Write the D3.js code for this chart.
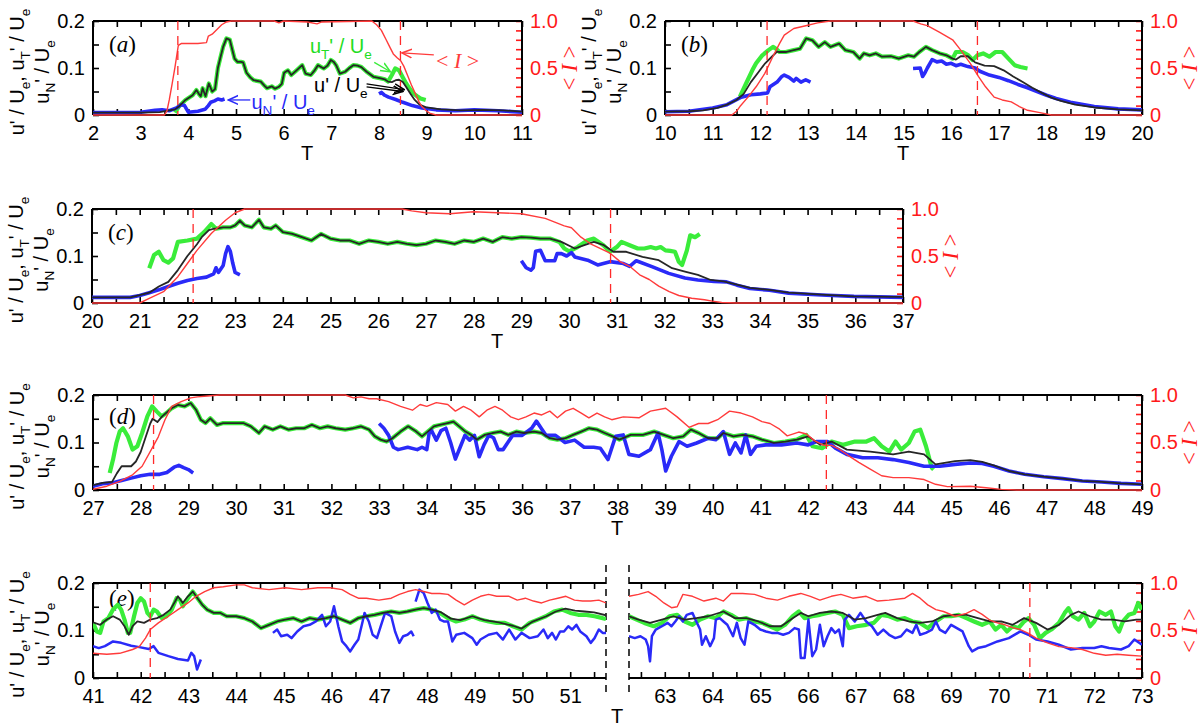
<!DOCTYPE html>
<html>
<head>
<meta charset="utf-8">
<script src="https://cdn.jsdelivr.net/npm/d3@7"></script>
<style>
body { margin: 0; background: #fff; }
svg { display: block; }
</style>
</head>
<body>
<div id="chart"></div>
<script>
// ---- data: [T, value] pairs ----
// panel (a)
var aRed = [[2,0],[3.5,0],[3.55,0.04],[3.6,0.16],[3.66,0.33],[3.72,0.51],[3.79,0.74],[3.85,0.76],[4.0,0.76],[4.2,0.76],[4.38,0.77],[4.42,0.84],[4.5,0.86],[4.6,0.91],[4.7,0.96],[4.8,0.99],[4.9,1.0],[5.8,1.0],[5.9,0.98],[6.0,1.0],[6.5,0.99],[6.7,0.97],[6.8,0.99],[7.85,1.0],[7.95,0.96],[8.05,0.9],[8.15,0.8],[8.23,0.72],[8.3,0.65],[8.38,0.61],[8.45,0.58],[8.52,0.52],[8.6,0.42],[8.68,0.32],[8.76,0.23],[8.84,0.14],[8.9,0.09],[8.98,0.05],[9.06,0.02],[9.2,0],[11,0]];
var aGreen = [[3.72,0.005],[3.8,0.018],[3.94,0.032],[4.09,0.042],[4.17,0.053],[4.22,0.045],[4.26,0.04],[4.3,0.057],[4.36,0.04],[4.43,0.067],[4.5,0.05],[4.56,0.055],[4.62,0.1],[4.68,0.125],[4.73,0.145],[4.8,0.163],[4.87,0.16],[4.92,0.14],[4.97,0.12],[5.03,0.113],[5.1,0.113],[5.15,0.112],[5.22,0.09],[5.3,0.08],[5.37,0.074],[5.52,0.071],[5.6,0.062],[5.65,0.057],[5.75,0.061],[5.82,0.056],[5.9,0.06],[5.96,0.066],[6.01,0.09],[6.09,0.095],[6.16,0.085],[6.27,0.095],[6.39,0.106],[6.46,0.088],[6.57,0.085],[6.65,0.095],[6.72,0.106],[6.84,0.099],[6.92,0.105],[6.99,0.117],[7.05,0.113],[7.1,0.106],[7.18,0.088],[7.29,0.092],[7.38,0.1],[7.46,0.106],[7.55,0.105],[7.63,0.102],[7.74,0.092],[7.89,0.081],[8.04,0.078],[8.12,0.076],[8.19,0.071],[8.27,0.085],[8.34,0.099],[8.42,0.095],[8.5,0.08],[8.57,0.067],[8.65,0.055],[8.72,0.046],[8.8,0.04],[8.87,0.035],[8.98,0.032]];
var aBlackIn = [[2,0.005],[3.0,0.005],[3.4,0.006],[3.6,0.01],[3.72,0.012],[3.8,0.018]];
var aBlackOut = [[8.27,0.07],[8.35,0.074],[8.42,0.075],[8.5,0.07],[8.58,0.058],[8.66,0.045],[8.75,0.032],[8.85,0.022],[9.0,0.016],[9.3,0.012],[9.7,0.01],[10.2,0.011],[10.6,0.01],[11,0.007]];
var aBlue1 = [[2,0.005],[2.5,0.005],[3.0,0.006],[3.3,0.01],[3.45,0.011],[3.6,0.009],[3.75,0.015],[3.85,0.022],[3.92,0.02],[4.0,0.006],[4.2,0.008],[4.35,0.012],[4.42,0.02],[4.47,0.027],[4.55,0.03],[4.62,0.034],[4.7,0.032],[4.76,0.034]];
var aBlue2 = [[8.0,0.045],[8.05,0.048],[8.12,0.042],[8.2,0.038],[8.35,0.033],[8.5,0.027],[8.7,0.02],[8.9,0.015],[9.2,0.011],[9.6,0.009],[10.0,0.011],[10.5,0.009],[11,0.006]];
var aDash = [3.78, 8.45];

// panel (b)
var bRed = [[10,0],[11.4,0],[11.5,0.04],[11.57,0.09],[11.74,0.19],[11.91,0.3],[12.09,0.44],[12.26,0.62],[12.4,0.76],[12.5,0.85],[12.7,0.92],[12.95,0.95],[13.2,0.98],[13.47,1.0],[15.2,1.0],[15.36,0.97],[15.5,0.95],[15.76,0.88],[16.03,0.8],[16.2,0.69],[16.4,0.55],[16.57,0.41],[16.72,0.3],[16.9,0.19],[17.07,0.16],[17.26,0.14],[17.43,0.09],[17.6,0.05],[17.86,0.025],[18.1,0],[20,0]];
var bGreen = [[11.57,0.039],[11.7,0.067],[11.83,0.095],[11.91,0.11],[12.04,0.127],[12.17,0.138],[12.27,0.145],[12.34,0.14],[12.4,0.134],[12.53,0.134],[12.7,0.138],[12.83,0.141],[12.96,0.163],[13.09,0.159],[13.22,0.145],[13.35,0.155],[13.47,0.145],[13.65,0.152],[13.78,0.138],[13.95,0.134],[14.08,0.12],[14.17,0.131],[14.29,0.127],[14.42,0.131],[14.55,0.124],[14.74,0.125],[14.9,0.12],[15.1,0.127],[15.22,0.124],[15.33,0.134],[15.47,0.145],[15.6,0.138],[15.76,0.131],[15.9,0.127],[16.03,0.12],[16.1,0.134],[16.24,0.134],[16.36,0.127],[16.45,0.117],[16.55,0.127],[16.67,0.131],[16.8,0.124],[16.93,0.134],[17.07,0.134],[17.2,0.12],[17.33,0.106],[17.45,0.102],[17.6,0.099]];
var bBlackIn = [[10,0.007],[10.5,0.008],[10.8,0.01],[11.1,0.015],[11.3,0.022],[11.5,0.032],[11.65,0.045],[11.8,0.07],[11.95,0.09],[12.1,0.11],[12.25,0.125],[12.35,0.135]];
var bBlackOut = [[16.1,0.118],[16.2,0.125],[16.35,0.125],[16.5,0.112],[16.7,0.105],[16.9,0.104],[17.1,0.095],[17.3,0.082],[17.5,0.07],[17.7,0.058],[17.9,0.047],[18.1,0.037],[18.3,0.03],[18.6,0.022],[19.0,0.016],[19.5,0.012],[20,0.01]];
var bBlue1 = [[10,0.007],[10.5,0.008],[11,0.015],[11.3,0.022],[11.6,0.038],[11.8,0.043],[12.0,0.045],[12.15,0.047],[12.2,0.06],[12.35,0.07],[12.45,0.082],[12.5,0.085],[12.6,0.08],[12.7,0.072],[12.75,0.078],[12.85,0.07],[12.95,0.075],[13.05,0.07]];
var bBlue2 = [[15.2,0.099],[15.35,0.1],[15.4,0.082],[15.45,0.09],[15.5,0.1],[15.6,0.118],[15.7,0.113],[15.8,0.115],[15.9,0.108],[16.0,0.11],[16.1,0.105],[16.2,0.108],[16.35,0.103],[16.5,0.1],[16.6,0.093],[16.8,0.085],[17.0,0.08],[17.2,0.073],[17.4,0.065],[17.6,0.058],[17.8,0.05],[18.0,0.042],[18.2,0.035],[18.5,0.027],[19.0,0.018],[19.5,0.013],[20,0.011]];
var bDash = [12.14, 16.55];

// panel (c)
var cRed = [[20,0],[21.0,0],[21.2,0.05],[21.5,0.12],[21.8,0.28],[22.0,0.42],[22.2,0.56],[22.5,0.74],[22.8,0.88],[23.0,0.96],[23.2,1.0],[26.5,1.0],[26.7,0.98],[27.0,0.96],[27.5,0.95],[28.0,0.97],[28.5,0.96],[29.0,0.95],[29.5,0.9],[29.7,0.86],[29.9,0.82],[30.05,0.8],[30.25,0.7],[30.45,0.63],[30.65,0.58],[30.86,0.53],[31.07,0.44],[31.27,0.39],[31.48,0.3],[31.68,0.25],[31.88,0.18],[32.1,0.12],[32.3,0.08],[32.57,0.05],[32.84,0.035],[33.0,0.02],[33.2,0.005],[33.5,0],[37,0]];
var cGreen = [[21.2,0.074],[21.3,0.102],[21.4,0.109],[21.5,0.091],[21.6,0.086],[21.7,0.095],[21.8,0.13],[22.0,0.133],[22.2,0.137],[22.35,0.151],[22.5,0.168],[22.6,0.158],[22.75,0.161],[22.9,0.161],[23.0,0.165],[23.1,0.175],[23.2,0.165],[23.35,0.161],[23.5,0.177],[23.6,0.161],[23.75,0.158],[23.85,0.165],[24.0,0.151],[24.2,0.147],[24.4,0.14],[24.6,0.133],[24.8,0.147],[25.0,0.137],[25.2,0.133],[25.4,0.133],[25.6,0.126],[25.8,0.133],[26.0,0.13],[26.2,0.126],[26.4,0.13],[26.6,0.126],[26.8,0.123],[27.0,0.126],[27.2,0.133],[27.4,0.13],[27.6,0.126],[27.8,0.133],[28.0,0.13],[28.2,0.137],[28.4,0.13],[28.6,0.14],[28.8,0.137],[29.0,0.14],[29.2,0.139],[29.4,0.137],[29.6,0.137],[29.8,0.13],[29.9,0.116],[30.0,0.11],[30.18,0.119],[30.38,0.133],[30.52,0.137],[30.72,0.123],[30.86,0.109],[31.0,0.119],[31.1,0.13],[31.27,0.123],[31.44,0.116],[31.58,0.116],[31.71,0.119],[31.82,0.116],[31.92,0.119],[32.02,0.112],[32.12,0.111],[32.22,0.109],[32.3,0.088],[32.37,0.081],[32.47,0.112],[32.54,0.144],[32.64,0.14],[32.74,0.147]];
var cBlackIn = [[20,0.012],[20.8,0.012],[21.0,0.017],[21.2,0.022],[21.4,0.035],[21.6,0.045],[21.8,0.07],[22.0,0.1],[22.2,0.125],[22.3,0.14],[22.45,0.155],[22.55,0.158]];
var cBlackOut = [[29.84,0.13],[30.12,0.116],[30.32,0.123],[30.52,0.13],[30.73,0.123],[30.93,0.109],[31.2,0.109],[31.54,0.098],[31.88,0.091],[32.16,0.074],[32.43,0.067],[32.7,0.06],[32.97,0.049],[33.24,0.046],[33.52,0.039],[33.79,0.032],[34.2,0.028],[34.6,0.022],[35.29,0.018],[35.97,0.014],[36.84,0.013],[37,0.013]];
var cBlue1 = [[20,0.012],[20.8,0.012],[21.0,0.016],[21.2,0.022],[21.4,0.028],[21.6,0.035],[21.8,0.042],[22.0,0.048],[22.2,0.052],[22.4,0.055],[22.55,0.062],[22.6,0.075],[22.65,0.065],[22.75,0.08],[22.8,0.105],[22.85,0.12],[22.9,0.11],[22.95,0.085],[23.0,0.065],[23.1,0.06]];
var cBlue2 = [[29.0,0.09],[29.1,0.075],[29.2,0.07],[29.25,0.075],[29.3,0.11],[29.4,0.112],[29.5,0.09],[29.6,0.09],[29.7,0.09],[29.75,0.105],[29.84,0.105],[29.95,0.1],[30.05,0.107],[30.12,0.098],[30.39,0.091],[30.6,0.081],[30.86,0.088],[31.14,0.084],[31.27,0.078],[31.41,0.09],[31.75,0.077],[32.09,0.063],[32.43,0.053],[32.7,0.049],[33.04,0.046],[33.3,0.045],[33.52,0.038],[33.79,0.031],[34.2,0.027],[34.6,0.021],[35.29,0.017],[35.97,0.014],[37,0.012]];
var cDash = [22.12, 30.87];

// panel (d)
var dRed = [[27,0.007],[27.29,0.04],[27.56,0.09],[27.83,0.16],[28.03,0.25],[28.24,0.44],[28.37,0.56],[28.51,0.74],[28.65,0.88],[28.85,0.93],[29.05,0.97],[29.19,0.98],[29.4,0.99],[29.65,1.0],[32.29,1.0],[32.46,0.97],[32.62,0.98],[32.79,0.96],[32.95,0.96],[33.2,0.93],[33.45,0.88],[33.7,0.84],[33.86,0.9],[34.0,0.88],[34.2,0.92],[34.44,0.9],[34.6,0.83],[34.77,0.88],[34.93,0.84],[35.1,0.77],[35.26,0.84],[35.43,0.88],[35.59,0.84],[35.76,0.77],[35.92,0.74],[36.08,0.77],[36.25,0.81],[36.41,0.79],[36.58,0.83],[36.74,0.76],[36.91,0.83],[37.07,0.86],[37.24,0.81],[37.4,0.76],[37.57,0.81],[37.73,0.77],[37.88,0.74],[38.12,0.77],[38.45,0.76],[38.69,0.83],[39.01,0.86],[39.25,0.77],[39.5,0.66],[39.7,0.7],[39.9,0.7],[40.1,0.74],[40.35,0.83],[40.59,0.81],[40.83,0.77],[41.03,0.72],[41.2,0.7],[41.4,0.64],[41.56,0.57],[41.8,0.61],[41.96,0.59],[42.13,0.52],[42.33,0.47],[42.49,0.47],[42.65,0.43],[42.85,0.36],[43.06,0.29],[43.3,0.22],[43.54,0.15],[43.78,0.13],[44.11,0.13],[44.43,0.11],[44.67,0.06],[44.92,0.035],[45.4,0.04],[45.73,0.024],[46.05,0.007],[46.37,0],[49,0]];
var dGreen = [[27.35,0.036],[27.42,0.064],[27.49,0.099],[27.56,0.123],[27.63,0.13],[27.73,0.113],[27.83,0.085],[27.93,0.092],[28.03,0.12],[28.14,0.155],[28.24,0.176],[28.34,0.165],[28.44,0.155],[28.54,0.162],[28.65,0.172],[28.78,0.179],[28.92,0.176],[29.05,0.183],[29.16,0.169],[29.26,0.148],[29.36,0.141],[29.46,0.151],[29.6,0.137],[29.73,0.141],[29.98,0.141],[30.15,0.141],[30.31,0.134],[30.48,0.12],[30.6,0.134],[30.77,0.127],[30.93,0.134],[31.1,0.127],[31.26,0.13],[31.43,0.13],[31.59,0.137],[31.76,0.13],[31.92,0.134],[32.09,0.13],[32.29,0.127],[32.46,0.13],[32.62,0.134],[32.79,0.127],[32.91,0.113],[33.03,0.106],[33.16,0.102],[33.28,0.109],[33.45,0.123],[33.61,0.134],[33.78,0.123],[33.9,0.113],[34.02,0.123],[34.15,0.134],[34.27,0.137],[34.44,0.141],[34.56,0.144],[34.68,0.134],[34.81,0.123],[34.93,0.116],[35.05,0.106],[35.22,0.116],[35.38,0.12],[35.55,0.123],[35.71,0.116],[35.88,0.123],[36.04,0.12],[36.25,0.123],[36.41,0.12],[36.58,0.109],[36.74,0.106],[36.91,0.109],[37.07,0.116],[37.24,0.123],[37.4,0.13],[37.57,0.127],[37.73,0.12],[37.9,0.113],[38.04,0.106],[38.28,0.116],[38.53,0.116],[38.77,0.123],[38.97,0.116],[39.17,0.109],[39.38,0.113],[39.54,0.127],[39.7,0.12],[39.9,0.109],[40.1,0.109],[40.22,0.12],[40.43,0.113],[40.63,0.116],[40.83,0.113],[41.03,0.106],[41.28,0.099],[41.52,0.102],[41.76,0.106],[41.96,0.116],[42.09,0.092],[42.29,0.088],[42.49,0.102],[42.73,0.095],[42.98,0.102],[43.22,0.102],[43.38,0.109],[43.54,0.092],[43.7,0.081],[43.83,0.102],[43.95,0.085],[44.11,0.099],[44.23,0.123],[44.35,0.127],[44.47,0.092],[44.59,0.047],[44.63,0.043]];
var dBlackIn = [[27,0.01],[27.2,0.015],[27.4,0.017],[27.5,0.035],[27.6,0.05],[27.8,0.05],[27.9,0.06],[28.0,0.08],[28.1,0.11],[28.2,0.14],[28.25,0.15],[28.35,0.143],[28.45,0.155],[28.6,0.168]];
var dBlackOut = [[42.0,0.113],[42.25,0.095],[42.49,0.102],[42.81,0.085],[43.3,0.081],[43.78,0.075],[44.11,0.081],[44.43,0.075],[44.67,0.054],[45.08,0.061],[45.4,0.063],[45.65,0.059],[45.89,0.052],[46.21,0.04],[46.54,0.033],[46.94,0.028],[47.34,0.024],[47.75,0.019],[48.15,0.017],[48.56,0.014],[49,0.012]];
var dBlue1 = [[27,0.008],[27.2,0.013],[27.4,0.015],[27.6,0.02],[27.8,0.025],[28.0,0.03],[28.2,0.033],[28.4,0.033],[28.55,0.037],[28.7,0.048],[28.8,0.052],[28.9,0.047],[29.0,0.043],[29.1,0.036]];
var dBlue2 = [[33.0,0.14],[33.1,0.13],[33.2,0.115],[33.3,0.09],[33.4,0.085],[33.6,0.09],[33.8,0.085],[33.9,0.09],[34.0,0.085],[34.05,0.12],[34.1,0.125],[34.2,0.105],[34.3,0.125],[34.4,0.13],[34.5,0.1],[34.6,0.065],[34.7,0.09],[34.8,0.115],[34.9,0.105],[35.0,0.115],[35.1,0.07],[35.2,0.095],[35.3,0.115],[35.4,0.11],[35.5,0.085],[35.6,0.085],[35.7,0.1],[35.8,0.115],[36.0,0.115],[36.2,0.13],[36.3,0.145],[36.4,0.13],[36.5,0.115],[36.7,0.115],[36.9,0.1],[37.1,0.105],[37.3,0.09],[37.5,0.09],[37.64,0.088],[37.8,0.064],[37.96,0.113],[38.12,0.116],[38.24,0.075],[38.45,0.071],[38.69,0.085],[38.85,0.12],[38.93,0.085],[39.01,0.04],[39.13,0.071],[39.29,0.102],[39.46,0.092],[39.66,0.099],[39.9,0.109],[40.06,0.106],[40.22,0.123],[40.35,0.075],[40.47,0.099],[40.59,0.078],[40.69,0.116],[40.79,0.075],[40.91,0.092],[41.11,0.095],[41.44,0.095],[41.76,0.099],[42.0,0.095],[42.17,0.102],[42.41,0.102],[42.57,0.088],[42.81,0.075],[43.14,0.068],[43.46,0.068],[43.78,0.064],[44.11,0.058],[44.43,0.05],[44.76,0.05],[45.08,0.054],[45.4,0.057],[45.65,0.056],[45.89,0.05],[46.21,0.04],[46.54,0.033],[46.94,0.028],[47.34,0.024],[47.75,0.019],[48.15,0.017],[48.56,0.014],[49,0.012]];
var dDash = [28.27, 42.38];

// panel (e), left part
var eRedL = [[41.0,0.26],[41.29,0.25],[41.56,0.26],[41.83,0.3],[41.97,0.33],[42.1,0.42],[42.2,0.51],[42.37,0.58],[42.58,0.65],[42.78,0.72],[42.99,0.79],[43.16,0.86],[43.34,0.91],[43.53,0.95],[43.73,0.96],[44.0,0.98],[44.17,0.98],[44.34,0.95],[44.69,0.93],[45.03,0.95],[45.37,0.93],[45.71,0.95],[45.97,0.95],[46.22,0.93],[46.39,0.88],[46.56,0.84],[46.73,0.84],[46.99,0.82],[47.25,0.84],[47.42,0.88],[47.59,0.91],[47.76,0.93],[47.93,0.91],[48.1,0.89],[48.27,0.89],[48.44,0.88],[48.61,0.82],[48.78,0.77],[48.95,0.82],[49.12,0.86],[49.29,0.88],[49.46,0.86],[49.72,0.86],[49.89,0.82],[50.06,0.84],[50.23,0.81],[50.4,0.79],[50.57,0.82],[50.74,0.84],[50.91,0.86],[51.09,0.82],[51.26,0.81],[51.43,0.81],[51.6,0.82],[51.75,0.79]];
var eGreenL = [[41.0,0.116],[41.08,0.098],[41.15,0.095],[41.22,0.119],[41.32,0.126],[41.42,0.144],[41.52,0.154],[41.59,0.144],[41.66,0.123],[41.73,0.095],[41.78,0.095],[41.86,0.13],[41.93,0.158],[42.0,0.168],[42.07,0.161],[42.14,0.137],[42.2,0.13],[42.27,0.144],[42.34,0.14],[42.44,0.126],[42.54,0.13],[42.65,0.144],[42.75,0.168],[42.82,0.165],[42.88,0.151],[42.99,0.168],[43.09,0.182],[43.19,0.168],[43.29,0.154],[43.39,0.144],[43.53,0.137],[43.67,0.137],[43.8,0.13],[44.0,0.13],[44.17,0.126],[44.34,0.119],[44.52,0.105],[44.69,0.112],[44.86,0.119],[45.03,0.123],[45.2,0.126],[45.37,0.119],[45.54,0.126],[45.71,0.123],[45.88,0.126],[46.05,0.13],[46.22,0.123],[46.39,0.116],[46.56,0.126],[46.73,0.13],[46.9,0.133],[47.08,0.137],[47.25,0.14],[47.42,0.137],[47.59,0.14],[47.76,0.144],[47.93,0.147],[48.1,0.144],[48.27,0.137],[48.44,0.126],[48.61,0.119],[48.78,0.123],[48.95,0.13],[49.12,0.123],[49.29,0.119],[49.46,0.116],[49.63,0.116],[49.8,0.109],[49.98,0.102],[50.15,0.116],[50.32,0.123],[50.49,0.13],[50.66,0.14],[50.83,0.144],[51.0,0.137],[51.17,0.133],[51.34,0.133],[51.51,0.13],[51.68,0.126],[51.75,0.124]];
var eBlackInL = [[41.0,0.117],[41.15,0.112],[41.29,0.123],[41.42,0.13],[41.56,0.123],[41.66,0.109],[41.75,0.091],[41.83,0.109],[41.93,0.119],[42.07,0.116],[42.2,0.123],[42.34,0.126],[42.48,0.133],[42.62,0.144],[42.72,0.161],[42.78,0.172],[42.88,0.158],[42.99,0.172]];
var eBlackOutL = [[48.3,0.138],[48.5,0.125],[48.7,0.122],[48.95,0.13],[49.2,0.122],[49.5,0.117],[49.8,0.11],[49.98,0.104],[50.2,0.118],[50.5,0.13],[50.7,0.14],[50.9,0.146],[51.1,0.142],[51.3,0.14],[51.5,0.138],[51.75,0.132]];
var eBlueL1 = [[41.0,0.067],[41.12,0.063],[41.25,0.067],[41.42,0.077],[41.59,0.074],[41.8,0.068],[41.97,0.065],[42.17,0.061],[42.27,0.067],[42.37,0.053],[42.58,0.046],[42.78,0.04],[42.99,0.037],[43.06,0.053],[43.12,0.046],[43.18,0.018],[43.26,0.039]];
var eBlueL2 = [[44.77,0.095],[44.86,0.102],[44.94,0.088],[45.07,0.091],[45.16,0.084],[45.28,0.098],[45.41,0.109],[45.54,0.112],[45.67,0.119],[45.8,0.133],[45.88,0.109],[45.97,0.119],[46.05,0.151],[46.14,0.109],[46.22,0.077],[46.31,0.067],[46.39,0.056],[46.48,0.07],[46.56,0.081],[46.65,0.119],[46.69,0.137],[46.78,0.119],[46.86,0.091],[46.95,0.084],[47.03,0.109],[47.12,0.137],[47.25,0.13],[47.33,0.098],[47.42,0.074],[47.5,0.088],[47.59,0.091],[47.67,0.098],[47.72,0.088]];
var eBlueL3 = [[47.76,0.161],[47.84,0.186],[47.93,0.179],[48.01,0.158],[48.1,0.137],[48.18,0.144],[48.27,0.123],[48.35,0.119],[48.44,0.119],[48.53,0.077],[48.61,0.091],[48.78,0.095],[48.95,0.084],[49.04,0.07],[49.12,0.081],[49.29,0.091],[49.46,0.095],[49.59,0.081],[49.72,0.102],[49.85,0.081],[49.98,0.095],[50.15,0.084],[50.32,0.088],[50.44,0.102],[50.53,0.084],[50.62,0.095],[50.7,0.081],[50.79,0.098],[50.87,0.098],[50.96,0.109],[51.04,0.102],[51.13,0.112],[51.21,0.098],[51.34,0.088],[51.43,0.074],[51.51,0.084],[51.6,0.102],[51.68,0.095],[51.75,0.095]];
var eDashL = [42.2];

// panel (e), right part
var eRedR = [[62.25,0.86],[62.45,0.88],[62.65,0.91],[62.81,0.86],[62.98,0.79],[63.14,0.74],[63.26,0.75],[63.38,0.88],[63.58,0.86],[63.82,0.81],[64.07,0.84],[64.23,0.81],[64.39,0.89],[64.63,0.89],[64.88,0.88],[65.12,0.84],[65.36,0.82],[65.6,0.86],[65.85,0.89],[66.05,0.86],[66.25,0.82],[66.49,0.86],[66.69,0.88],[66.94,0.84],[67.22,0.86],[67.46,0.81],[67.7,0.82],[68.03,0.84],[68.19,0.89],[68.35,0.84],[68.51,0.77],[68.68,0.72],[68.84,0.7],[69.08,0.65],[69.32,0.68],[69.48,0.72],[69.65,0.67],[69.81,0.61],[69.97,0.58],[70.13,0.56],[70.29,0.53],[70.45,0.51],[70.62,0.47],[70.78,0.42],[71.02,0.37],[71.26,0.33],[71.51,0.32],[71.75,0.3],[72.0,0.26],[72.24,0.24],[72.48,0.25],[72.72,0.24],[73.0,0.23]];
var eGreenR = [[62.25,0.13],[62.41,0.123],[62.57,0.116],[62.77,0.109],[62.94,0.116],[63.1,0.13],[63.26,0.133],[63.42,0.119],[63.58,0.112],[63.74,0.123],[63.91,0.13],[64.07,0.126],[64.23,0.14],[64.39,0.133],[64.55,0.123],[64.71,0.126],[64.88,0.119],[65.04,0.116],[65.2,0.109],[65.36,0.102],[65.52,0.112],[65.68,0.13],[65.81,0.14],[65.93,0.126],[66.09,0.13],[66.25,0.133],[66.41,0.137],[66.57,0.14],[66.73,0.133],[66.86,0.105],[67.02,0.109],[67.22,0.112],[67.38,0.116],[67.54,0.133],[67.7,0.13],[67.87,0.123],[68.03,0.126],[68.19,0.119],[68.35,0.116],[68.51,0.105],[68.68,0.119],[68.84,0.13],[69.0,0.13],[69.16,0.133],[69.32,0.126],[69.48,0.119],[69.65,0.112],[69.81,0.119],[69.93,0.102],[70.05,0.112],[70.17,0.098],[70.29,0.109],[70.41,0.105],[70.53,0.119],[70.62,0.126],[70.74,0.112],[70.86,0.084],[70.98,0.095],[71.1,0.102],[71.26,0.116],[71.38,0.137],[71.46,0.147],[71.55,0.13],[71.67,0.123],[71.79,0.137],[71.91,0.109],[72.0,0.119],[72.11,0.14],[72.24,0.133],[72.35,0.14],[72.44,0.109],[72.52,0.098],[72.6,0.119],[72.72,0.133],[72.84,0.137],[72.92,0.158],[73.0,0.144]];
var eBlackR = [[62.25,0.13],[62.45,0.123],[62.69,0.116],[62.94,0.123],[63.18,0.13],[63.42,0.123],[63.66,0.126],[63.91,0.13],[64.23,0.14],[64.47,0.126],[64.71,0.126],[64.96,0.119],[65.2,0.109],[65.44,0.109],[65.68,0.126],[65.85,0.137],[66.01,0.13],[66.25,0.137],[66.49,0.14],[66.73,0.137],[66.98,0.123],[67.22,0.126],[67.46,0.133],[67.62,0.137],[67.87,0.126],[68.11,0.119],[68.35,0.116],[68.6,0.119],[68.84,0.13],[69.08,0.133],[69.32,0.133],[69.56,0.126],[69.81,0.119],[70.05,0.119],[70.29,0.112],[70.53,0.126],[70.78,0.116],[71.02,0.102],[71.26,0.112],[71.51,0.133],[71.67,0.14],[71.91,0.13],[72.15,0.123],[72.39,0.123],[72.64,0.119],[72.88,0.123],[73.0,0.123]];
var eBlueR = [[62.25,0.088],[62.37,0.084],[62.49,0.088],[62.6,0.081],[62.65,0.067],[62.69,0.035],[62.73,0.088],[62.81,0.102],[62.94,0.109],[63.06,0.116],[63.14,0.109],[63.22,0.119],[63.3,0.13],[63.38,0.119],[63.46,0.133],[63.58,0.137],[63.66,0.119],[63.74,0.102],[63.78,0.07],[63.86,0.088],[63.95,0.067],[64.03,0.084],[64.07,0.123],[64.15,0.126],[64.23,0.119],[64.31,0.112],[64.43,0.088],[64.51,0.116],[64.59,0.084],[64.67,0.07],[64.75,0.119],[64.88,0.112],[65.0,0.102],[65.12,0.098],[65.24,0.095],[65.36,0.095],[65.48,0.091],[65.6,0.095],[65.72,0.105],[65.81,0.102],[65.85,0.042],[65.93,0.042],[66.01,0.123],[66.09,0.046],[66.17,0.06],[66.25,0.112],[66.33,0.067],[66.41,0.088],[66.49,0.105],[66.57,0.095],[66.65,0.102],[66.73,0.067],[66.77,0.123],[66.86,0.133],[66.98,0.119],[67.1,0.137],[67.22,0.119],[67.34,0.109],[67.46,0.091],[67.58,0.102],[67.7,0.091],[67.83,0.084],[67.95,0.088],[68.07,0.102],[68.19,0.095],[68.27,0.112],[68.35,0.091],[68.47,0.095],[68.6,0.102],[68.68,0.119],[68.76,0.102],[68.88,0.095],[69.0,0.112],[69.12,0.105],[69.24,0.098],[69.37,0.067],[69.44,0.056],[69.56,0.063],[69.73,0.067],[69.97,0.077],[70.21,0.084],[70.45,0.098],[70.62,0.091],[70.78,0.081],[71.02,0.077],[71.26,0.07],[71.51,0.06],[71.75,0.063],[72.0,0.063],[72.15,0.067],[72.31,0.063],[72.56,0.06],[72.72,0.067],[72.84,0.081],[73.0,0.07]];
var eDashR = [70.65];

// where u' sits right on top of uT', the black curve is read from the same points
function between(arr, lo, hi) {
    return arr.filter(function (p) { return p[0] > lo && p[0] < hi; });
}
var aBlack = aBlackIn.concat(between(aGreen, 3.85, 8.2), aBlackOut);
var bBlack = bBlackIn.concat(between(bGreen, 12.38, 16.05), bBlackOut);
var cBlack = cBlackIn.concat(between(cGreen, 22.58, 29.75), cBlackOut);
var dBlack = dBlackIn.concat(between(dGreen, 28.62, 41.9), dBlackOut);
var eBlackL = eBlackInL.concat(between(eGreenL, 43.05, 48.2), eBlackOutL);

var GREEN = "#3aec3a", BLUE = "#2a2af8", BLACK = "#262626", RED = "#ff3b3b";
var FONT = "Arial, 'Liberation Sans', sans-serif";
var SERIF = "'Times New Roman', 'Liberation Serif', serif";

var svg = d3.select("#chart").append("svg")
    .attr("width", 1203)
    .attr("height", 726)
    .style("font-family", FONT);

var defs = svg.append("defs");
[["arG", GREEN], ["arK", "#000"], ["arB", BLUE], ["arR", RED]].forEach(function (m) {
    defs.append("marker")
        .attr("id", m[0])
        .attr("viewBox", "0 0 10 10")
        .attr("refX", 9).attr("refY", 5)
        .attr("markerWidth", 11).attr("markerHeight", 11)
        .attr("markerUnits", "userSpaceOnUse")
        .attr("orient", "auto")
        .append("path")
        .attr("d", "M0,1 L9,5 L0,9")
        .attr("fill", "none")
        .attr("stroke", m[1])
        .attr("stroke-width", 1.4);
});

// text with subscripts: parts = [[text, isSub], ...]
function rich(t, parts, size) {
    var shift = 0;
    parts.forEach(function (p) {
        var s = t.append("tspan").text(p[0]);
        var want = p[1] ? size * 0.3 : 0;
        if (p[1]) s.attr("font-size", size * 0.68);
        if (p[2]) s.attr("font-style", "italic").attr("font-family", SERIF);
        if (want !== shift) {
            s.attr("dy", want - shift);
            shift = want;
        }
    });
}

var clipId = 0;

function frame(o) {
    var x = d3.scaleLinear().domain(o.dom).range([o.x0, o.x1]);
    var y = d3.scaleLinear().domain([0, 0.2]).range([o.y1, o.y0]);
    var yr = d3.scaleLinear().domain([0, 1]).range([o.y1, o.y0]);
    var g = svg.append("g");

    var halves = d3.range(Math.ceil(o.dom[0] * 2), Math.floor(o.dom[1] * 2) + 1)
        .map(function (k) { return k / 2; });

    var bottom = g.append("g")
        .attr("transform", "translate(0," + o.y1 + ")")
        .call(d3.axisBottom(x).tickValues(halves).tickSizeInner(-6).tickSizeOuter(0).tickPadding(11)
            .tickFormat(function (d) { return d % 1 === 0 ? d : ""; }));
    var top = g.append("g")
        .attr("transform", "translate(0," + o.y0 + ")")
        .call(d3.axisTop(x).tickValues(halves).tickSizeInner(-6).tickSizeOuter(0).tickFormat(""));
    var axes = [bottom, top];

    if (o.left) {
        var left = g.append("g")
            .attr("transform", "translate(" + o.x0 + ",0)")
            .call(d3.axisLeft(y).tickValues([0, 0.05, 0.1, 0.15, 0.2]).tickSizeInner(-6).tickSizeOuter(0).tickPadding(8)
                .tickFormat(function (d) {
                    return d === 0 ? "0" : (Math.abs(d - 0.1) < 1e-9 ? "0.1" : (Math.abs(d - 0.2) < 1e-9 ? "0.2" : ""));
                }));
        axes.push(left);
        // left title
        var lt = g.append("g").attr("transform", "translate(" + (o.x0 - 69) + "," + ((o.y0 + o.y1) / 2 + 4) + ") rotate(-90)");
        rich(lt.append("text").attr("text-anchor", "middle").attr("font-size", 20),
            [["u' / U"], ["e", 1], [", u"], ["T", 1], ["' / U"], ["e", 1]], 20);
        var lt2 = g.append("g").attr("transform", "translate(" + (o.x0 - 44) + "," + ((o.y0 + o.y1) / 2 + 4) + ") rotate(-90)");
        rich(lt2.append("text").attr("text-anchor", "middle").attr("font-size", 20),
            [["u"], ["N", 1], ["' / U"], ["e", 1]], 20);
    }
    if (o.right) {
        var right = g.append("g")
            .attr("transform", "translate(" + o.x1 + ",0)")
            .call(d3.axisRight(yr).tickValues(d3.range(0, 11).map(function (k) { return k / 10; }))
                .tickSizeInner(-6).tickSizeOuter(0).tickPadding(8)
                .tickFormat(function (d) {
                    return d === 0 ? "0" : (d === 0.5 ? "0.5" : (d === 1 ? "1.0" : ""));
                }));
        right.attr("color", "#ff1a1a");
        axes.push(right);
        var rt = g.append("g").attr("transform", "translate(" + (o.x1 + 55) + "," + ((o.y0 + o.y1) / 2) + ") rotate(-90)");
        rich(rt.append("text").attr("text-anchor", "middle").attr("font-size", 23).attr("fill", "#ff1a1a")
            .attr("font-family", SERIF), [["< "], ["I", 0, 1], [" >"]], 23);
    }
    axes.forEach(function (a) {
        a.select(".domain").remove();
        a.attr("font-size", 20).attr("font-family", FONT);
        a.selectAll(".tick line").attr("stroke-width", 1.6);
    });

    // frame
    g.append("line").attr("x1", o.x0).attr("x2", o.x1).attr("y1", o.y0).attr("y2", o.y0)
        .attr("stroke", "#000").attr("stroke-width", 2);
    g.append("line").attr("x1", o.x0).attr("x2", o.x1).attr("y1", o.y1).attr("y2", o.y1)
        .attr("stroke", "#000").attr("stroke-width", 2);
    [[o.x0, o.dashL], [o.x1, o.dashR]].forEach(function (s) {
        var ln = g.append("line").attr("x1", s[0]).attr("x2", s[0])
            .attr("stroke", "#000");
        if (s[1]) {
            ln.attr("y1", o.y0 - 18).attr("y2", o.y1 + 17)
                .attr("stroke-width", 1.5).attr("stroke-dasharray", "7,5");
        } else {
            ln.attr("y1", o.y0).attr("y2", o.y1).attr("stroke-width", 2);
        }
    });

    // x title
    if (o.tX) {
        g.append("text").attr("x", o.tX).attr("y", o.y1 + 45)
            .attr("text-anchor", "middle").attr("font-size", 20).text("T");
    }
    // panel letter
    if (o.letter) {
        rich(g.append("text").attr("x", o.x0 + 16).attr("y", o.y0 + o.letterDy)
            .attr("font-size", 23).attr("font-family", SERIF),
            [["("], [o.letter, 0, 1], [")"]], 23);
    }

    // data lines
    clipId += 1;
    defs.append("clipPath").attr("id", "clip" + clipId)
        .append("rect").attr("x", o.x0).attr("y", o.y0 - 2)
        .attr("width", o.x1 - o.x0).attr("height", o.y1 - o.y0 + 4);
    var plot = g.append("g").attr("clip-path", "url(#clip" + clipId + ")");

    var line = d3.line()
        .x(function (d) { return x(d[0]); })
        .y(function (d) { return y(d[1]); });
    var lineR = d3.line()
        .x(function (d) { return x(d[0]); })
        .y(function (d) { return yr(d[1]); });

    plot.append("path").attr("d", line(o.green))
        .attr("fill", "none").attr("stroke", GREEN).attr("stroke-width", 4.2)
        .attr("stroke-linejoin", "round");
    o.blue.forEach(function (b) {
        plot.append("path").attr("d", line(b))
            .attr("fill", "none").attr("stroke", BLUE).attr("stroke-width", o.blueW)
            .attr("stroke-linejoin", "round");
    });
    plot.append("path").attr("d", line(o.black))
        .attr("fill", "none").attr("stroke", BLACK).attr("stroke-width", 1.8)
        .attr("stroke-linejoin", "round");
    plot.append("path").attr("d", lineR(o.red))
        .attr("fill", "none").attr("stroke", RED).attr("stroke-width", 1.4)
        .attr("stroke-linejoin", "round");

    o.dash.forEach(function (t) {
        g.append("line").attr("x1", x(t)).attr("x2", x(t)).attr("y1", o.y0).attr("y2", o.y1)
            .attr("stroke", "#ff2a2a").attr("stroke-width", 1.3).attr("stroke-dasharray", "9,6");
    });

    return { g: g, x: x, y: y, yr: yr };
}

var pa = frame({ x0: 93, x1: 522, y0: 21, y1: 115, dom: [2, 11], left: true, right: true, tX: 307, letter: "a", letterDy: 31,
    green: aGreen, black: aBlack, blue: [aBlue1, aBlue2], blueW: 3.6, red: aRed, dash: aDash });
frame({ x0: 665, x1: 1142, y0: 21, y1: 115, dom: [10, 20], left: true, right: true, tX: 903, letter: "b", letterDy: 31,
    green: bGreen, black: bBlack, blue: [bBlue1, bBlue2], blueW: 3.6, red: bRed, dash: bDash });
frame({ x0: 92, x1: 903, y0: 209, y1: 303, dom: [20, 37], left: true, right: true, tX: 497, letter: "c", letterDy: 31,
    green: cGreen, black: cBlack, blue: [cBlue1, cBlue2], blueW: 3.6, red: cRed, dash: cDash });
frame({ x0: 93, x1: 1142, y0: 395, y1: 490, dom: [27, 49], left: true, right: true, tX: 617, letter: "d", letterDy: 29,
    green: dGreen, black: dBlack, blue: [dBlue1, dBlue2], blueW: 3.6, red: dRed, dash: dDash });
frame({ x0: 93, x1: 606, y0: 583, y1: 678, dom: [41, 51.75], left: true, right: false, dashR: true, tX: 617, letter: "e", letterDy: 23,
    green: eGreenL, black: eBlackL, blue: [eBlueL1, eBlueL2, eBlueL3], blueW: 2.5, red: eRedL, dash: eDashL });
frame({ x0: 629, x1: 1142, y0: 583, y1: 678, dom: [62.25, 73], left: false, right: true, dashL: true,
    green: eGreenR, black: eBlackR, blue: [eBlueR], blueW: 2.5, red: eRedR, dash: eDashR });

// annotations in panel (a)
function note(p, tx, ty, parts, color, serif) {
    var t = p.g.append("text").attr("x", tx).attr("y", ty)
        .attr("text-anchor", "middle").attr("font-size", serif ? 22 : 20).attr("fill", color);
    if (serif) t.attr("font-family", SERIF);
    rich(t, parts, serif ? 22 : 20);
}
function arrow(p, x1, y1, x2, y2, color, id) {
    p.g.append("line").attr("x1", x1).attr("y1", y1).attr("x2", x2).attr("y2", y2)
        .attr("stroke", color).attr("stroke-width", 1.3).attr("marker-end", "url(#" + id + ")");
}
note(pa, pa.x(7.2), pa.y(0.132), [["u"], ["T", 1], ["' / U"], ["e", 1]], "#22dd22");
arrow(pa, pa.x(7.9), pa.y(0.112), pa.x(8.24), pa.y(0.092), GREEN, "arG");
note(pa, pa.x(9.65), pa.yr(0.5), [["< "], ["I", 0, 1], [" >"]], RED, true);
arrow(pa, pa.x(9.15), pa.yr(0.64), pa.x(8.48), pa.yr(0.66), RED, "arR");
note(pa, pa.x(7.2), pa.y(0.05), [["u' / U"], ["e", 1]], "#000");
arrow(pa, pa.x(7.74), pa.y(0.066), pa.x(8.53), pa.y(0.054), "#000", "arK");
arrow(pa, pa.x(7.74), pa.y(0.06), pa.x(8.5), pa.y(0.05), "#000", "arK");
note(pa, pa.x(5.99), pa.y(0.012), [["u"], ["N", 1], ["' / U"], ["e", 1]], BLUE);
arrow(pa, pa.x(5.3), pa.y(0.032), pa.x(4.84), pa.y(0.032), BLUE, "arB");
</script>
</body>
</html>
